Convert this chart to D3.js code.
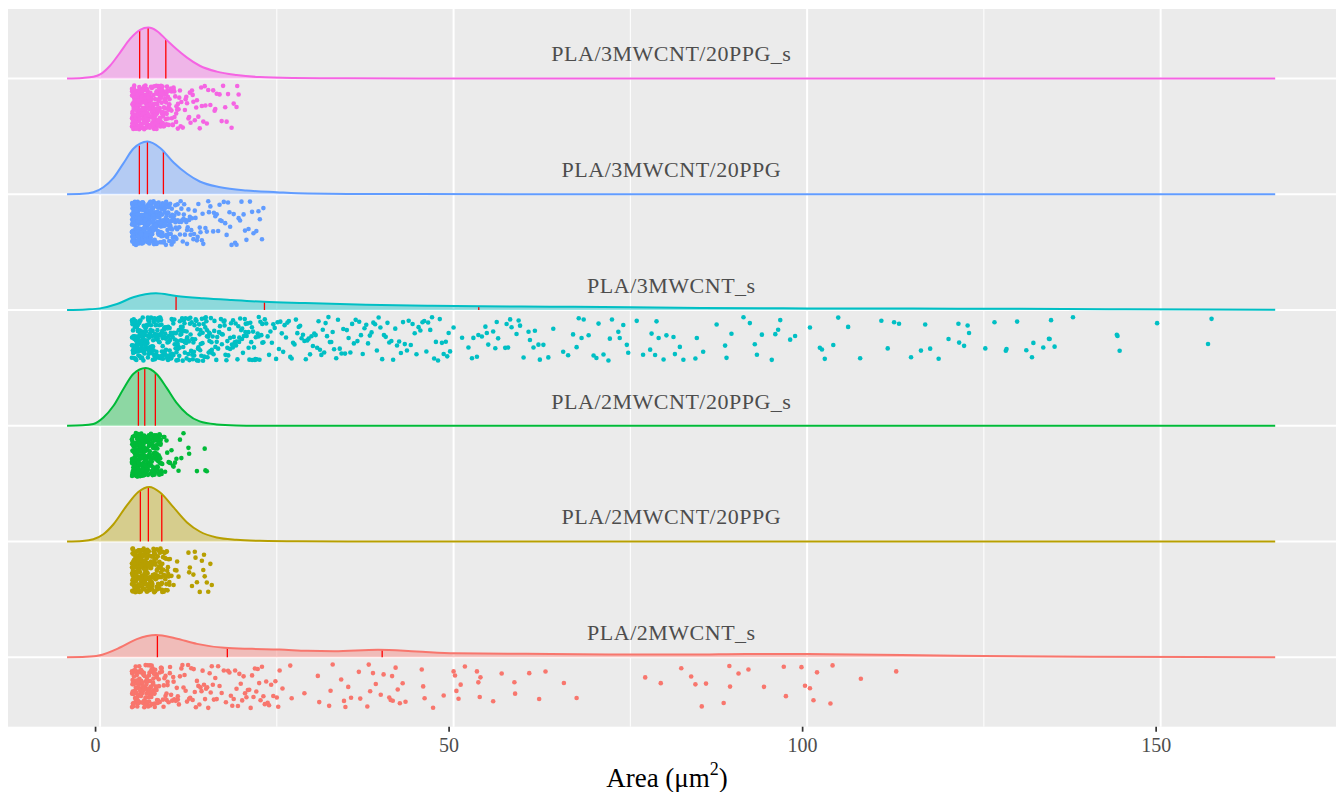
<!DOCTYPE html>
<html><head><meta charset="utf-8">
<script src="https://cdn.jsdelivr.net/npm/d3@7"></script>
<style>body{margin:0;background:#fff}svg{display:block}</style>
</head><body>
<svg id="chart" width="1338" height="792"></svg>
<script>
// ---- data ----
const categories = ["PLA/2MWCNT_s","PLA/2MWCNT/20PPG","PLA/2MWCNT/20PPG_s","PLA/3MWCNT_s","PLA/3MWCNT/20PPG","PLA/3MWCNT/20PPG_s"];
const colors = ["#F8766D","#B79F00","#00BA38","#00BFC4","#619CFF","#F564E3"];
const xTicks = [0,50,100,150];
const xMinorTicks = [25,75,125];
const xTitle = "Area (μm";

const quartiles2MWCNTs = [8.11,18.0,39.9];
const quartiles2MWCNT20PPG = [5.70,6.83,8.73];
const quartiles2MWCNT20PPGs = [5.42,6.32,7.82];
const quartiles3MWCNTs = [10.75,23.25,53.56];
const quartiles3MWCNT20PPG = [5.56,6.7,8.96];
const quartiles3MWCNT20PPGs = [5.6,6.8,9.3];

const density2MWCNTs = [[-4.67,0],[-2,0.001],[-0.2,0.0037],[2.9,0.022],[5.2,0.04],[7.9,0.049],[10.6,0.042],[13.7,0.0295],[17.6,0.0207],[21.5,0.0185],[25.4,0.017],[29.3,0.0141],[33.1,0.0132],[39.3,0.0163],[44.8,0.0126],[50.2,0.0088],[60.3,0.0075],[71.9,0.006],[83.6,0.006],[91.3,0.0073],[103,0.0066],[116,0.0044],[125,0.003],[140,0.0012],[155,0.0003],[166.2,0]];
const density2MWCNT20PPG = [[-4.67,0],[-2.5,0.0012],[-0.95,0.005],[0.47,0.016],[1.9,0.038],[3.77,0.079],[5.4,0.109],[6.97,0.12],[8.5,0.108],[10.4,0.075],[12.3,0.042],[14.1,0.022],[16.5,0.0088],[19.3,0.0037],[22.6,0.0015],[28,0.0003],[35,0],[166.2,0]];
const density2MWCNT20PPGs = [[-4.67,0],[-2.5,0.0008],[-0.95,0.0037],[0.47,0.018],[1.9,0.044],[3.3,0.081],[4.7,0.114],[6.46,0.127],[8.0,0.114],[9.4,0.084],[10.8,0.051],[12.3,0.026],[14.1,0.0095],[16.5,0.0029],[19.3,0.0007],[23,0],[166.2,0]];
const density3MWCNTs = [[-4.67,0],[-2,0.0012],[0,0.0035],[2.4,0.013],[4.7,0.028],[7.9,0.037],[10.8,0.031],[14.6,0.026],[18.6,0.022],[23.2,0.018],[29,0.0154],[37.6,0.0117],[46.3,0.0095],[53.7,0.008],[63.6,0.0073],[75.2,0.006],[85,0.0045],[100,0.0035],[115,0.003],[130,0.0025],[145,0.0017],[157,0.001],[166.2,0.0005]];
const density3MWCNT20PPG = [[-4.67,0],[-2.5,0.001],[-0.95,0.0044],[0.47,0.0154],[1.9,0.036],[3.3,0.068],[4.7,0.1],[6.7,0.116],[8.5,0.102],[10.4,0.07],[12.3,0.045],[14.1,0.028],[17,0.0154],[20.7,0.0081],[25,0.0044],[29.4,0.0015],[35,0.0007],[45,0.0002],[60,0],[166.2,0]];
const density3MWCNT20PPGs = [[-4.67,0],[-2.5,0.0012],[-0.95,0.0037],[0,0.0088],[1.41,0.028],[2.83,0.057],[4.24,0.087],[5.66,0.107],[6.83,0.112],[8.0,0.105],[9.4,0.085],[10.8,0.065],[12.3,0.046],[14.1,0.028],[16.5,0.015],[19.3,0.0075],[22.6,0.003],[27.3,0.0011],[35,0.0003],[45,0],[166.2,0]];

const points2MWCNTs = [4.52,4.58,4.64,4.7,4.77,4.83,4.89,4.95,5.01,5.08,5.14,5.2,5.26,5.32,5.39,5.45,5.51,5.57,5.63,5.7,5.76,5.82,5.88,5.94,6.01,6.07,6.13,6.19,6.25,6.32,6.38,6.44,6.5,6.56,6.63,6.69,6.75,6.81,6.87,6.94,7.0,7.06,7.12,7.18,7.25,7.31,7.37,7.43,7.49,7.56,7.62,7.68,7.74,7.8,7.87,7.93,7.99,8.06,
4.55,4.67,4.8,4.92,5.05,5.17,5.3,5.42,5.55,5.67,5.8,5.92,6.05,6.17,6.3,6.42,6.55,6.67,6.8,6.92,7.05,7.17,7.3,7.42,7.55,7.67,7.8,7.92,
4.51,4.6,4.69,4.79,4.89,5.0,5.11,5.23,5.35,5.48,5.62,5.76,5.91,6.07,6.24,6.42,6.61,6.81,7.02,7.25,7.49,7.75,8.03,8.33,8.66,9.02,9.42,9.87,10.4,11.0,
4.53,4.62,4.72,4.82,4.93,5.04,5.15,5.27,5.39,5.52,5.65,5.79,5.93,6.08,6.23,6.39,6.56,6.73,6.91,7.1,7.3,7.51,7.73,7.96,8.2,8.45,8.71,8.98,9.26,9.55,
8.15,8.3,8.45,8.6,8.75,8.9,9.1,9.25,9.4,9.55,9.7,9.9,10.05,10.2,10.35,10.5,10.7,10.85,11.0,11.15,11.3,11.5,11.65,11.8,11.95,12.1,12.3,12.45,12.6,12.75,12.9,13.1,13.25,13.4,13.55,13.7,13.9,14.05,14.2,14.35,14.5,14.7,14.85,15.0,15.15,15.3,15.5,15.65,15.8,15.95,16.1,16.3,16.5,16.7,16.9,17.2,17.5,17.8,
18.1,18.3,18.5,18.7,18.9,19.1,19.3,19.5,19.7,19.9,20.1,20.3,20.5,20.7,20.9,21.1,21.3,21.5,21.7,21.9,22.1,22.3,22.5,22.7,22.9,23.1,23.3,23.5,23.7,23.9,24.2,24.5,24.8,25.0,25.2,25.4,25.8,26.9,27.1,28.9,30.8,31.0,32.4,32.6,32.9,34.1,34.5,34.7,35.1,35.5,36.6,36.8,37.8,38.0,38.2,38.6,39.0,39.7,
40.1,40.9,41.1,41.3,41.4,41.8,42.1,42.4,42.8,43.2,45.5,45.7,45.9,47.1,48.6,50.0,50.2,50.4,50.7,51.0,51.6,53.3,53.5,53.7,53.8,55.6,56.8,58.6,58.7,60.7,62.1,63.0,65.6,67.4,77.1,79.3,82.2,83.6,84.2,85.1,85.7,88.2,89.0,89.1,90.3,91.7,93.9,96.7,97.0,99.2,99.7,100.4,100.9,101.4,103.3,103.6,107.6,112.6];

const points2MWCNT20PPG = [4.5,4.53,4.55,4.58,4.61,4.63,4.66,4.69,4.71,4.74,4.77,4.79,4.82,4.85,4.87,4.9,4.93,4.95,4.98,5.01,5.03,5.06,5.09,5.11,5.14,5.17,5.19,5.22,5.25,5.27,5.3,5.33,5.35,5.38,5.41,5.43,5.46,5.49,5.51,5.54,5.57,5.59,5.62,5.65,5.68,
5.72,5.74,5.77,5.79,5.82,5.84,5.87,5.89,5.92,5.94,5.97,5.99,6.02,6.04,6.07,6.09,6.12,6.14,6.17,6.19,6.22,6.24,6.27,6.29,6.32,6.34,6.37,6.39,6.42,6.44,6.47,6.49,6.52,6.54,6.57,6.59,6.62,6.64,6.67,6.69,6.72,6.74,6.77,6.79,6.82,
6.86,6.9,6.94,6.99,7.03,7.07,7.11,7.15,7.2,7.24,7.28,7.32,7.37,7.41,7.45,7.49,7.53,7.58,7.62,7.66,7.7,7.75,7.79,7.83,7.87,7.91,7.96,8.0,8.04,8.08,8.13,8.17,8.21,8.25,8.29,8.34,8.38,8.42,8.46,8.5,8.55,8.59,8.63,8.67,8.71,
7.6,7.8,8.0,8.2,8.4,8.6,8.8,9.0,9.2,9.4,9.6,9.8,4.6,4.8,5.0,5.2,5.4,5.6,5.8,6.0,6.2,6.4,6.6,
4.52,4.58,4.65,4.72,4.79,4.86,4.93,5.0,5.08,5.16,5.24,5.32,5.41,5.5,5.59,5.69,5.79,5.9,6.01,6.13,6.25,6.38,6.52,6.67,6.83,7.0,7.19,7.4,7.63,7.9,
4.51,4.57,4.64,4.7,4.77,4.84,4.91,4.98,5.05,5.12,5.2,5.28,5.36,5.44,5.52,5.61,5.7,5.79,5.88,5.98,6.08,6.18,6.29,6.4,6.51,6.63,6.75,6.87,7.0,7.13,7.27,7.41,7.56,7.71,7.87,8.03,8.2,8.38,8.56,8.75,
8.76,8.81,8.86,8.91,8.96,9.01,9.07,9.12,9.17,9.22,9.28,9.33,9.38,9.44,9.49,9.54,9.6,9.65,9.7,9.76,9.82,9.88,10.1,10.4,10.6,10.8,10.9,11.1,12.5,12.6,12.7,13.0,13.2,13.4,13.5,13.7,14.1,14.4,14.6,14.7,14.8,15.1,15.3,15.6,15.8];

const points2MWCNT20PPGs = [4.5,4.52,4.54,4.56,4.58,4.6,4.62,4.64,4.66,4.68,4.7,4.72,4.74,4.76,4.78,4.8,4.82,4.84,4.86,4.88,4.9,4.92,4.94,4.96,4.98,5.0,5.02,5.04,5.06,5.08,5.1,5.12,5.14,5.16,5.18,5.2,5.22,5.24,5.26,5.28,5.3,5.32,5.35,5.38,5.41,
5.43,5.45,5.47,5.49,5.51,5.53,5.55,5.57,5.59,5.61,5.63,5.65,5.67,5.69,5.71,5.73,5.75,5.77,5.79,5.81,5.83,5.85,5.87,5.89,5.91,5.93,5.95,5.97,5.99,6.01,6.03,6.05,6.07,6.09,6.11,6.13,6.15,6.17,6.19,6.21,6.23,6.25,6.27,6.29,6.31,
6.34,6.37,6.41,6.44,6.47,6.51,6.54,6.58,6.61,6.64,6.68,6.71,6.74,6.78,6.81,6.85,6.88,6.91,6.95,6.98,7.01,7.05,7.08,7.12,7.15,7.18,7.22,7.25,7.28,7.32,7.35,7.39,7.42,7.45,7.49,7.52,7.55,7.59,7.62,7.66,7.69,7.72,7.75,7.78,7.81,
7.05,7.2,7.35,7.5,7.65,7.8,7.95,8.1,8.25,8.4,8.55,8.8,9.1,9.5,10.3,4.55,4.75,4.95,5.15,5.35,5.55,5.75,5.95,6.15,6.35,6.55,
4.51,4.57,4.63,4.69,4.75,4.81,4.87,4.94,5.0,5.07,5.13,5.2,5.27,5.34,5.41,5.49,5.57,5.65,5.73,5.82,5.91,6.0,6.1,6.2,6.31,6.43,6.56,6.7,6.86,7.05,
4.53,4.59,4.65,4.71,4.77,4.84,4.9,4.97,5.03,5.1,5.17,5.24,5.31,5.39,5.46,5.54,5.62,5.7,5.78,5.87,5.96,6.05,6.14,6.24,6.34,6.44,6.55,6.66,6.78,6.9,7.03,7.16,7.3,7.45,7.6,7.76,7.93,8.11,8.3,8.5,
7.85,7.88,7.92,7.95,7.99,8.02,8.06,8.09,8.13,8.16,8.2,8.23,8.27,8.3,8.34,8.37,8.41,8.44,8.48,8.51,8.55,8.58,8.61,8.64,8.67,8.7,9.0,9.2,9.4,9.7,9.9,10.1,10.4,10.6,10.8,11.1,11.3,11.5,11.8,12.5,12.6,13.7,14.8,14.9,15.1];

const points3MWCNTs = [4.5,4.53,4.57,4.6,4.64,4.68,4.72,4.76,4.8,4.85,4.9,4.94,4.99,5.04,5.08,5.13,5.18,5.22,5.27,5.32,5.37,5.41,5.46,5.51,5.56,5.6,5.65,5.7,5.75,5.8,5.84,5.89,5.94,5.99,6.04,6.08,6.13,6.18,6.23,6.28,6.32,6.37,6.42,6.47,6.52,6.56,6.61,6.66,6.71,6.76,6.81,6.86,6.91,6.96,7.01,7.06,7.11,7.16,7.21,7.26,7.31,7.36,7.41,7.46,7.51,7.56,7.61,7.66,7.71,7.76,7.81,7.86,7.91,7.96,8.01,8.06,8.11,8.16,8.21,8.26,8.31,8.37,8.42,8.47,8.52,8.58,8.63,8.68,8.74,8.79,8.84,8.9,8.95,9.0,9.06,9.11,9.17,9.22,9.28,9.33,9.39,9.44,9.5,9.55,9.61,9.67,9.72,9.78,9.84,9.9,9.95,10.01,10.07,10.13,10.19,10.25,10.31,10.38,10.45,10.55,10.68,
4.51,4.58,4.66,4.74,4.82,4.91,5.0,5.09,5.18,5.28,5.38,5.48,5.59,5.7,5.81,5.93,6.05,6.17,6.3,6.43,6.56,6.7,6.84,6.98,7.13,7.28,7.43,7.59,7.75,7.91,8.08,8.25,8.42,8.6,8.78,8.96,9.15,9.34,9.54,9.74,9.94,10.15,10.36,10.58,10.8,11.03,11.26,11.5,11.74,11.99,12.24,12.5,12.77,13.04,13.32,13.61,13.9,14.2,14.51,14.82,15.14,15.47,15.81,16.15,16.5,16.86,17.23,17.61,18.0,18.4,18.81,19.23,19.66,20.1,20.55,21.01,21.48,21.96,22.45,22.95,
4.52,4.6,4.68,4.77,4.86,4.95,5.04,5.14,5.24,5.34,5.44,5.55,5.66,5.77,5.88,6.0,6.12,6.24,6.37,6.5,6.63,6.77,6.91,7.05,7.2,7.35,7.5,7.66,7.82,7.98,8.15,8.32,8.5,8.68,8.86,9.05,9.24,9.44,9.64,9.85,10.06,10.28,10.5,10.73,10.96,11.2,11.44,11.69,11.94,12.2,
10.8,10.88,10.96,11.04,11.12,11.2,11.28,11.36,11.44,11.52,11.6,11.68,11.76,11.84,11.92,12.0,12.08,12.16,12.24,12.32,12.4,12.48,12.56,12.64,12.72,12.8,12.88,12.96,13.04,13.12,13.2,13.28,13.36,13.44,13.52,13.6,13.68,13.76,13.84,13.92,14.0,14.08,14.16,14.24,14.32,14.4,14.48,14.56,14.64,14.72,14.8,14.88,14.96,15.04,15.12,15.2,15.28,15.36,15.44,15.52,15.6,15.68,15.76,15.84,15.92,
16.05,16.18,16.31,16.44,16.57,16.7,16.83,16.96,17.09,17.22,17.35,17.48,17.61,17.74,17.87,18.0,18.13,18.26,18.39,18.52,18.65,18.78,18.91,19.04,19.17,19.3,19.43,19.56,19.69,19.82,19.95,20.08,20.21,20.34,20.47,20.6,20.73,20.86,20.99,21.12,21.25,21.38,21.51,21.64,21.77,21.9,22.03,22.16,22.29,22.42,22.55,22.68,22.81,22.94,23.1,
23.3,23.5,23.7,23.9,24.1,24.3,24.5,24.7,24.9,25.1,25.3,25.5,25.7,25.9,26.1,26.3,26.5,26.7,26.9,27.1,27.3,27.5,27.7,27.9,28.1,28.3,28.5,28.7,28.9,29.1,29.3,29.5,29.7,29.9,30.1,30.3,30.5,30.7,30.9,31.1,31.3,31.5,31.7,31.9,32.1,32.3,32.5,32.7,32.9,33.1,
33.4,33.65,33.9,34.15,34.4,34.65,34.9,35.15,35.4,35.65,35.9,36.15,36.4,36.65,36.9,37.15,37.4,37.65,37.9,38.15,38.4,38.65,38.9,39.15,39.4,39.65,39.9,40.15,40.4,40.65,40.9,
41.2,41.45,41.75,42.0,42.3,42.55,42.85,43.1,43.4,43.65,43.95,44.2,44.5,44.75,45.05,45.3,45.6,45.85,46.15,46.4,46.7,46.95,47.25,47.5,47.8,48.05,48.35,48.6,48.9,49.1,49.3,
49.5,50.0,51.2,52.1,52.6,52.8,53.3,53.5,
54.0,54.5,54.7,54.9,55.6,55.9,56.1,56.3,57.3,57.5,57.7,58.0,58.2,58.9,59.2,59.4,59.9,60.6,60.8,61.3,61.5,62.0,62.2,62.7,63.4,64.1,65.5,66.2,66.9,67.4,67.7,68.1,68.4,69.1,69.8,70.2,70.5,71.2,71.9,72.1,72.4,73.3,73.5,74.0,74.5,74.7,75.9,76.8,77.8,78.0,78.5,78.7,79.0,79.7,80.1,81.1,81.3,82.0,82.5,84.2,84.4,85.3,87.2,88.4,88.6,89.3,91.0,91.9,92.6,92.9,93.6,95.0,95.5,95.9,96.2,97.6,98.3,100.4,101.8,102.1,102.5,103.7,104.4,105.8,107.5,
110.5,111.4,112.3,113.0,114.7,116.1,116.7,117.4,118.6,120.0,121.4,121.5,122.2,122.7,122.9,125.2,126.5,128.1,128.2,129.7,131.0,131.8,132.0,133.4,134.2,134.3,134.5,135.0,137.6,143.8,143.9,144.2,149.5,156.7,157.2];

const points3MWCNT20PPG = [4.5,4.51,4.52,4.54,4.55,4.56,4.58,4.6,4.61,4.62,4.64,4.66,4.67,4.69,4.7,4.72,4.74,4.75,4.77,4.78,4.8,4.82,4.83,4.85,4.87,4.88,4.9,4.92,4.93,4.95,4.97,4.98,5.0,5.02,5.03,5.05,5.07,5.08,5.1,5.12,5.13,5.15,5.17,5.18,5.2,5.22,5.23,5.25,5.27,5.28,5.3,5.32,5.33,5.35,5.37,5.38,5.4,5.42,5.43,5.45,5.47,5.49,5.51,5.53,5.55,
5.57,5.59,5.61,5.62,5.64,5.66,5.68,5.7,5.71,5.73,5.75,5.77,5.78,5.8,5.82,5.84,5.85,5.87,5.89,5.91,5.93,5.94,5.96,5.98,6.0,6.01,6.03,6.05,6.07,6.08,6.1,6.12,6.14,6.16,6.17,6.19,6.21,6.23,6.24,6.26,6.28,6.3,6.31,6.33,6.35,6.37,6.39,6.4,6.42,6.44,6.46,6.47,6.49,6.51,6.53,6.54,6.56,6.58,6.6,6.62,6.63,6.65,6.67,6.68,6.69,
6.72,6.75,6.79,6.82,6.86,6.89,6.93,6.96,7.0,7.03,7.07,7.1,7.14,7.17,7.21,7.24,7.28,7.31,7.35,7.38,7.42,7.45,7.49,7.52,7.56,7.59,7.63,7.66,7.7,7.73,7.77,7.8,7.84,7.87,7.91,7.94,7.98,8.01,8.05,8.08,8.12,8.15,8.19,8.22,8.26,8.29,8.33,8.36,8.4,8.43,8.47,8.5,8.54,8.57,8.61,8.64,8.68,8.71,8.75,8.78,8.82,8.85,8.89,8.92,8.95,
4.52,4.57,4.63,4.68,4.73,4.79,4.84,4.89,4.94,5.0,5.06,5.11,5.16,5.21,5.26,5.31,5.36,5.41,5.46,5.52,5.58,5.63,5.69,5.74,5.79,5.86,5.92,5.97,6.02,6.09,6.15,6.2,6.27,6.33,6.38,6.45,6.5,6.57,6.63,6.7,6.77,6.84,6.91,6.98,7.06,7.13,7.2,7.29,7.37,7.45,7.54,7.62,7.71,7.8,7.9,8.0,8.1,8.2,8.31,8.42,8.54,8.66,8.78,8.91,9.04,9.18,9.32,9.47,9.62,9.78,9.95,10.12,10.3,10.5,10.7,10.95,11.2,11.5,11.85,12.3,
4.54,4.6,4.66,4.71,4.77,4.82,4.88,4.93,4.99,5.04,5.1,5.15,5.21,5.26,5.32,5.37,5.43,5.48,5.54,5.6,5.66,5.72,5.78,5.84,5.9,5.96,6.02,6.08,6.14,6.2,6.26,6.32,6.39,6.45,6.51,6.58,6.64,6.71,6.77,6.84,6.91,6.98,7.05,7.12,7.19,7.26,7.33,7.41,7.48,7.56,7.64,7.72,7.8,7.88,7.96,8.05,8.13,8.22,8.31,8.4,8.49,8.59,8.68,8.78,8.88,8.98,9.09,9.2,9.31,9.42,9.54,9.66,9.78,9.91,10.04,10.18,10.33,10.48,10.64,10.81,
9.05,9.15,9.25,9.35,9.45,9.55,9.65,9.75,9.85,9.95,10.05,10.15,10.25,10.4,10.55,10.7,10.9,11.1,11.2,11.4,11.6,11.7,11.9,12.1,12.3,12.5,12.6,12.8,13.0,13.3,13.5,13.8,14.2,14.5,14.9,15.4,16.1,16.9,18.3,19.6,
9.0,9.1,9.2,9.3,9.4,9.5,9.6,9.7,9.8,9.9,10.0,10.1,10.2,10.35,10.5,10.65,10.8,11.0,11.3,11.5,11.8,12.0,12.2,12.4,12.7,12.9,13.2,13.4,13.7,13.9,14.1,14.4,14.6,15.1,15.3,15.6,16.0,16.3,16.5,16.7,17.0,17.2,17.5,17.7,17.9,18.1,18.4,18.6,18.9,19.1,19.3,19.8,20.0,20.3,20.5,20.7,21.0,21.2,21.5,21.7,22.1,22.4,22.6,22.9,23.1];

const points3MWCNT20PPGs = [4.51,4.52,4.54,4.55,4.57,4.6,4.61,4.63,4.66,4.68,4.7,4.71,4.74,4.77,4.79,4.8,4.83,4.86,4.88,4.9,4.92,4.95,4.96,4.99,5.01,5.04,5.06,5.08,5.1,5.13,5.15,5.16,5.19,5.22,5.24,5.26,5.27,5.3,5.33,5.35,5.36,5.39,5.41,5.43,5.45,5.47,5.49,5.5,5.52,5.54,5.55,5.57,5.58,5.59,5.6,
5.61,5.63,5.65,5.67,5.69,5.71,5.73,5.76,5.78,5.8,5.81,5.84,5.86,5.89,5.91,5.93,5.95,5.97,6.0,6.02,6.04,6.06,6.09,6.11,6.13,6.15,6.18,6.2,6.22,6.24,6.26,6.29,6.31,6.33,6.35,6.37,6.4,6.42,6.44,6.46,6.48,6.51,6.53,6.55,6.57,6.59,6.61,6.63,6.66,6.68,6.7,6.72,6.74,6.76,6.79,
6.82,6.85,6.88,6.93,6.97,7.01,7.04,7.09,7.12,7.17,7.21,7.25,7.28,7.33,7.37,7.41,7.44,7.5,7.53,7.58,7.62,7.65,7.7,7.74,7.79,7.83,7.86,7.92,7.96,8.0,8.05,8.09,8.13,8.18,8.22,8.27,8.31,8.36,8.4,8.45,8.5,8.54,8.59,8.64,8.68,8.73,8.78,8.83,8.88,8.93,8.98,9.04,9.11,9.18,9.26,
4.53,4.59,4.65,4.72,4.78,4.85,4.91,4.98,5.05,5.11,5.18,5.25,5.31,5.38,5.44,5.51,5.58,5.64,5.71,5.78,5.85,5.92,5.99,6.06,6.13,6.21,6.28,6.36,6.43,6.51,6.59,6.67,6.75,6.84,6.92,7.01,7.1,7.19,7.29,7.38,7.48,7.58,7.69,7.8,7.91,8.03,8.15,8.28,8.41,8.55,8.7,8.86,9.02,9.2,9.39,9.6,9.83,10.1,10.4,10.8,
4.52,4.58,4.64,4.7,4.76,4.82,4.88,4.94,5.0,5.06,5.12,5.19,5.25,5.31,5.38,5.44,5.5,5.57,5.63,5.7,5.77,5.83,5.9,5.97,6.04,6.11,6.18,6.25,6.33,6.4,6.48,6.55,6.63,6.71,6.79,6.87,6.95,7.04,7.12,7.21,7.3,7.39,7.48,7.58,7.68,7.78,7.88,7.99,8.1,8.21,8.33,8.45,8.58,8.71,8.85,8.99,9.14,9.3,9.47,9.65,
7.55,7.68,7.82,7.95,8.08,8.2,8.35,8.48,8.62,8.75,8.9,9.05,9.2,9.38,9.55,9.7,9.88,10.1,10.3,10.5,10.75,11.0,11.2,11.4,11.7,12.1,12.6,13.1,13.6,14.3,
9.35,9.43,9.52,9.6,9.71,9.8,9.92,10.03,10.15,10.26,10.4,10.52,10.63,10.77,10.9,11.02,11.1,11.3,11.5,12.0,12.2,12.3,12.5,12.7,12.8,13.0,13.2,13.4,13.7,13.9,14.1,14.4,14.6,14.8,14.9,15.1,15.3,15.6,16.0,16.2,16.3,16.5,16.9,17.2,17.4,17.7,17.9,18.1,18.6,18.9,19.3,19.4,19.6];

const groupPoints = [points2MWCNTs, points2MWCNT20PPG, points2MWCNT20PPGs, points3MWCNTs, points3MWCNT20PPG, points3MWCNT20PPGs];
const groupDensity = [density2MWCNTs, density2MWCNT20PPG, density2MWCNT20PPGs, density3MWCNTs, density3MWCNT20PPG, density3MWCNT20PPGs];
const groupQuartiles = [quartiles2MWCNTs, quartiles2MWCNT20PPG, quartiles2MWCNT20PPGs, quartiles3MWCNTs, quartiles3MWCNT20PPG, quartiles3MWCNT20PPGs];

// ---- layout ----
const svg = d3.select("#chart");
const panel = {left: 8, right: 1336, top: 9, bottom: 726.7};
const serif = "'Liberation Serif', 'DejaVu Serif', serif";

const x = d3.scaleLinear().domain([-13.02, 174.8]).range([panel.left, panel.right]);
const xTickScale = d3.scaleLinear().domain(x.domain()).range([panel.left - 5, panel.right - 5]);
const y = d3.scaleLinear().domain([0.4, categories.length + 0.6]).range([panel.bottom, panel.top]);
const dScale = d3.scaleLinear().domain([0, 0.127]).range([0, 0.498]);

// deterministic jitter offset (layout only), in [0,1)
function jitterU(j, i) {
  const s = Math.sin((j + 1) * 12.9898 + (i + 1) * 78.233) * 43758.5453;
  const h = s - Math.floor(s);
  const v = (j + 1) * 0.6180339887 + 0.55 * h;
  return v - Math.floor(v);
}

svg.append("rect").attr("x", panel.left).attr("y", panel.top)
  .attr("width", panel.right - panel.left).attr("height", panel.bottom - panel.top)
  .attr("fill", "#EBEBEB");

const grid = svg.append("g");
grid.selectAll("line.minor").data(xMinorTicks).join("line").attr("class","minor")
  .attr("x1", d => x(d)).attr("x2", d => x(d)).attr("y1", panel.top).attr("y2", panel.bottom)
  .attr("stroke", "#fff").attr("stroke-width", 1);
grid.selectAll("line.major").data(xTicks).join("line").attr("class","major")
  .attr("x1", d => x(d)).attr("x2", d => x(d)).attr("y1", panel.top).attr("y2", panel.bottom)
  .attr("stroke", "#fff").attr("stroke-width", 2);
grid.selectAll("line.h").data(categories).join("line").attr("class","h")
  .attr("x1", panel.left).attr("x2", panel.right)
  .attr("y1", (d, i) => y(i + 1)).attr("y2", (d, i) => y(i + 1))
  .attr("stroke", "#fff").attr("stroke-width", 2);

function densityAt(dens, v) {
  for (let k = 0; k < dens.length - 1; k++) {
    const a = dens[k], b = dens[k + 1];
    if (v >= a[0] && v <= b[0]) return a[1] + (b[1] - a[1]) * (v - a[0]) / (b[0] - a[0]);
  }
  return 0;
}

categories.forEach((cat, i) => {
  const base = i + 1;
  const col = colors[i];
  const g = svg.append("g");
  g.selectAll("circle").data(groupPoints[i]).join("circle")
    .attr("cx", d => x(d))
    .attr("cy", (d, j) => y(base - 0.25 + (jitterU(j, i) * 2 - 1) * 0.19))
    .attr("r", 2.3).attr("fill", col);

  const dens = groupDensity[i];
  const area = d3.area().x(d => x(d[0])).y0(y(base)).y1(d => y(base + dScale(d[1]))).curve(d3.curveMonotoneX);
  const line = d3.line().x(d => x(d[0])).y(d => y(base + dScale(d[1]))).curve(d3.curveMonotoneX);
  g.append("path").datum(dens).attr("d", area).attr("fill", col).attr("fill-opacity", 0.4);
  g.selectAll("line.q").data(groupQuartiles[i]).join("line").attr("class","q")
    .attr("x1", d => x(d)).attr("x2", d => x(d))
    .attr("y1", y(base)).attr("y2", d => y(base + dScale(densityAt(dens, d))))
    .attr("stroke", "#FF0000").attr("stroke-width", 1.3);
  g.append("path").datum(dens).attr("d", line).attr("fill", "none").attr("stroke", col).attr("stroke-width", 2);

  svg.append("text").attr("x", x(80.8)).attr("y", y(base + 0.147))
    .attr("text-anchor", "middle").attr("font-family", serif).attr("font-size", 22)
    .attr("letter-spacing", 0.5)
    .attr("fill", "#4D4D4D").text(cat);
});

// x axis
const axis = svg.append("g").attr("transform", `translate(0,${panel.bottom})`)
  .call(d3.axisBottom(xTickScale).tickValues(xTicks).tickSize(5).tickPadding(6).tickFormat(d3.format("d")));
axis.select(".domain").remove();
axis.selectAll(".tick line").attr("stroke", "#333").attr("stroke-width", 1.7);
axis.selectAll(".tick text").attr("font-family", serif).attr("font-size", 20).attr("fill", "#4D4D4D");

const title = svg.append("text").attr("x", 667).attr("y", 787).attr("text-anchor", "middle")
  .attr("font-family", serif).attr("font-size", 27).attr("fill", "#000");
title.append("tspan").text(xTitle);
title.append("tspan").attr("font-size", 18).attr("dy", -12).text("2");
title.append("tspan").attr("dy", 12).text(")");
</script>
</body></html>
